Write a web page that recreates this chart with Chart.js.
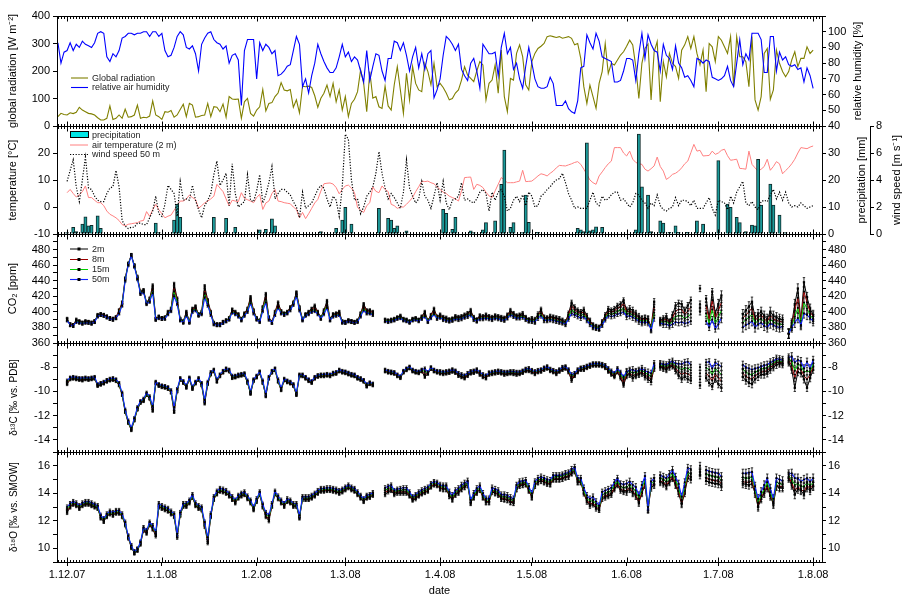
<!DOCTYPE html>
<html>
<head>
  <meta charset="utf-8">
  <title>Tower profile: weather, CO2 and isotopes</title>
  <script src="https://cdn.jsdelivr.net/npm/chart.js"></script>
  <style>
    body { margin: 0; background: #fff; }
    #wrap { position: relative; width: 903px; height: 595px; }
    #wrap canvas { position: absolute; left: 0; top: 0; }
  </style>
</head>
<body>
  <div id="wrap">
    <canvas id="c1" width="903" height="595"></canvas>
    <canvas id="c2" width="903" height="595"></canvas>
    <canvas id="c3" width="903" height="595"></canvas>
    <canvas id="c4" width="903" height="595"></canvas>
    <canvas id="c5" width="903" height="595"></canvas>
  </div>

  <script>
    // x axis: days counted from 1 Dec 2007
    const monthDays = [0, 31, 62, 91, 122, 152, 183, 213, 244];
    const monthLabels = ['1.12.07', '1.1.08', '1.2.08', '1.3.08', '1.4.08', '1.5.08', '1.6.08', '1.7.08', '1.8.08'];

    // tick labels per axis
    const radTicks = [0, 100, 200, 300, 400];
    const humTicks = [40, 50, 60, 70, 80, 90, 100];
    const tempTicks = [-10, 0, 10, 20];
    const precipTicks = [0, 10, 20, 30];
    const windTicks = [0, 2, 4, 6, 8];
    const co2Ticks = [360, 380, 400, 420, 440, 460, 480];
    const d13Ticks = [-14, -12, -10, -8];
    const d18Ticks = [10, 12, 14, 16];

    // daily weather, starting 28 Nov 2007 (day -3)
    const weatherStart = -3;
    const radiation = [
      34,46,42,40,48,45,50,68,58,52, 46,44,40,30,22,22,28,73,24,28,
      40,28,61,32,34,40,76,28,32,30, 36,91,40,34,24,52,50,56,32,40,
      60,79,34,82,76,32,34,38,40,82, 34,70,68,52,80,32,107,98,97,98,
      28,88,100,46,36,58,70,133,55,82, 85,107,120,158,131,128,133,68,95,48,
      145,143,145,140,110,68,101,119,149,107, 155,88,131,58,107,34,82,97,125,204,
      155,52,198,101,107,70,64,145,73,58, 150,216,131,46,192,95,216,155,131,125,
      228,198,150,228,143,155,140,120,95,100, 120,131,167,216,185,173,161,200,234,222,
      95,155,167,222,119,276,107,52,173,167, 264,295,252,150,131,234,264,282,290,300,
      325,328,325,322,325,319,322,325,319,295, 300,246,143,82,149,107,64,155,198,300,
      191,228,222,240,258,270,290,312,295,216, 100,228,282,298,95,270,307,88,234,179,
      264,228,216,173,276,295,325,282,325,264, 222,276,125,300,288,234,325,312,288,264,
      325,143,325,252,252,234,143,325,95,58, 107,264,282,97,131,276,228,198,179,198,
      240,270,216,246,246,288,264,276
    ];
    const humidity = [
      93,80,87,88,93,88,92,90,94,92, 91,90,93,99,100,99,84,81,86,84,
      88,96,97,99,99,98,99,99,100,100, 97,100,100,97,99,88,84,85,90,97,
      100,98,90,89,91,86,75,92,96,99, 100,95,93,92,89,91,80,85,86,82,
      53,88,95,95,95,70,93,88,92,90, 86,88,72,73,75,78,79,88,97,92,
      65,70,61,72,80,92,86,81,77,74, 74,77,84,92,84,87,81,84,82,75,
      68,88,69,78,86,85,75,69,83,83, 94,93,88,93,85,75,84,90,77,86,
      76,86,88,58,63,70,85,97,95,92, 88,92,76,72,69,80,83,75,64,92,
      89,86,86,87,72,90,99,86,90,76, 80,70,64,78,90,80,70,65,64,64,
      65,71,67,53,53,53,56,51,49,48, 56,77,78,98,93,89,99,94,84,83,
      82,81,68,68,69,75,83,83,82,69, 86,99,83,98,92,88,87,75,92,85,
      83,76,91,80,77,71,72,69,65,83, 82,80,82,81,71,70,69,70,72,78,
      69,65,80,95,79,86,82,99,99,99, 95,74,74,97,97,75,87,82,84,79,
      78,79,76,77,68,77,72,64
    ];

    // daily weather from 1 Dec 2007 (day 0)
    const tempStart = 0;
    const airTemp = [
      5.3,6.5,5,3.7,4.5,5.7,7.8,3.5,3.5,2.5, 1.6,1.6,0.5,-1.5,-2.7,-3.3,-4,-5,-6.5,-7,
      -6.4,-6.2,-6,-5.8,-5.2,-5,-1.7,-3.5,-1,1, -1,-2.5,-4,-3.4,-3,-1.2,0.5,2.2,2.2,3,
      4.4,3.5,2.8,-0.5,0.5,1.5,2.2,3,4,8.4, 7,5.7,3,0.4,2.5,2.2,2,5.3,3.2,2.7,
      2.2,1.6,3.5,4.7,-0.9,1.5,2.2,5,6.5,2.2, 2,1.6,1.4,1.2,0,-0.9,-4,-2,-4.3,-2.5,
      -0.5,1.5,2.8,5.9,8.6,8.8,8.9,8.5,7.2,4.9, 6.5,7.8,8.1,7,5.3,-0.2,-1.2,-2,0.5,1.6,
      7.4,5.8,5.3,7.8,6.5,5.7,1,0.5,-0.5,0, 0,1,2.2,3.5,5.7,7.5,9.6,9.4,9.6,9,
      8.6,7.5,6.5,5.5,5,4,3.5,3,2.2,6, 10.9,11,11.1,6.5,8.4,8,7.2,5.5,4.1,3.5,
      6,8.4,10.9,10,9,9,9,9.3,9.6,13.6, 9.4,9.5,9.6,10.5,11.5,12.3,12,11.5,12.5,13.3,
      14.5,15.4,15.3,15.2,15.6,16,16.5,16.8,15.8,14, 12.1,10,9,8.4,11.5,13,14.6,16,17,22,
      22,22,20,18.9,20.7,17.7,16.5,16,15.8,14, 13.3,14.2,15.2,18.5,15,13.3,10.2,11,12.1,12.5,
      13.3,14.5,16,17,20.1,23.2,20.7,21,18.9,19, 19.1,20.7,19.5,20,21,21.4,19,17.3,17.5,17.7,
      14.3,14.2,14,20.7,15.8,14.5,13.3,14,15,17.7, 13.6,15,16.8,16,12.3,13.5,14.6,16,17.7,20,
      22,21.8,21.6,22.2,22.6
    ];
    const windSpeed = [
      3.9,4.7,5.5,3.5,2.4,4,5.7,3.4,3.3,2.8, 2.5,2.4,2.4,3,3.4,3.5,4.7,3.5,1,0.6,
      0.4,0.5,0.5,0.8,0.8,0.7,0.7,1.2,1.7,2.8, 1.5,1.3,2.2,3.6,3.3,3,1.3,3.9,2.5,2.6,
      2.5,3.6,2.5,1.8,1.2,2.1,2.5,3,4.4,5.4, 3.6,4,4.5,2.1,5.2,3,2,2.2,2.4,4.4,
      2.5,2.4,3.2,4.4,2.3,2.9,3.8,5,2.6,3, 3.3,3.3,3.1,2.9,2.4,2,1.2,3.1,1.9,2.1,
      2.3,2.8,3.3,3.6,3.4,2.6,2,2.8,2.5,1.3, 3.5,7.4,7,4,2.5,2.6,1.5,2,2.8,3.1,
      3.5,4.5,6.1,4.5,3.4,2.6,3,2.7,2.3,1.9, 3.1,5.5,3.4,2.8,2.3,2.6,3.9,2.8,2.5,1.9,
      2.8,3.8,2.5,3.9,2.3,1.8,2.5,2.6,2.8,3.8, 2.5,2.6,2.4,2.3,2.6,3.1,3.3,3,1.7,3.1,
      2.5,3.1,3.3,2.8,1.7,1.9,2.5,2.8,2.4,2.9, 2.1,3.1,2.8,2,2.1,2.8,3,3.3,3.5,3.8,
      4,4.1,4.5,3.8,3,2.5,1.9,2,1.9,1.9, 1.9,2.5,3.1,2.3,2.1,2.8,2.5,2.6,2.9,3.1,
      3.1,2.5,2.6,2.3,2,2.3,3,2.9,2.5,2.3, 1.9,2.3,2.1,2.9,2.1,1.8,1.7,1.9,2,2.7,
      2.1,2.5,2.5,2.4,2.1,2.5,1.9,1.9,1.9,2.3, 2.7,1.9,1.4,2.5,2.4,2.3,1.8,2.8,2.3,3.1,
      3.5,3.9,2.3,2.1,2.4,2,1.8,2.4,2.5,2.4, 2.9,3.3,2.6,3.1,2.5,3.1,2.3,2,2.1,2,
      2.3,2.1,1.9,2,2.1
    ];
    const precipDay = [0,2,3,5,6,7,8,10,11,29,30,35,36,37,48,52,55,63,65,67,68,83,88,90,91,93,
      102,105,106,107,108,111,118,123,124,126,127,132,133,136,137,140,142,143,145,146,149,150,151,154,
      167,168,169,170,171,172,173,175,186,187,188,190,191,194,195,197,199,200,203,206,208,213,216,217,
      219,220,222,224,225,226,227,230,231,233,235];
    const precipMm = [0.5,2.5,0.9,3.7,6.4,3,3.2,6.7,2.1,4,0.5,5.2,11,6.2,6.2,5.8,2.5,1.5,1.7,5.6,3,0.9,2.1,5.2,9.9,3.7,
      9.5,5.8,5.2,2.1,3,1.2,0.2,9.1,7.7,1.7,6.2,1.2,0.5,1.5,4.2,4.9,18.4,31.1,2.5,4.2,0.5,14.4,4.3,0.6,
      2.1,1.5,0.9,33.8,1.2,1.5,2.7,2.5,1.5,37,17.5,14.4,0.9,4.9,4,0.6,3,0.6,0.6,4.9,3.7,27.2,11.1,9.9,
      6.2,4.2,0.9,3.3,3,27.7,10.7,18.5,10.7,7,0.5];

    // profile measurements, daily from 1 Dec 2007, null = no data
    const isoStart = 0;
    const co2_2m = [
      391,384,383,390,388,386,388,387,386,388, 396,397,396,394,392,391,393,402,412,443,
      462,473,460,445,426,428,412,417,434,391, 394,392,393,400,404,436,417,391,388,400,
      388,404,407,397,400,433,415,400,386,384, 384,387,389,392,403,400,397,391,398,404,
      419,402,392,389,406,423,393,387,400,412, 401,398,400,406,412,425,406,391,397,400,
      404,408,400,393,402,414,391,397,398,400, 388,387,389,388,387,389,398,410,402,402,
      400,null,null,null,390,389,390,391,393,395, 391,390,388,391,392,390,394,400,389,396,
      404,394,396,393,392,390,391,394,393,394, 396,398,402,393,390,395,394,396,394,393,
      395,394,393,392,396,402,398,395,396,398, 393,390,391,390,397,403,393,392,394,393,
      392,391,389,387,398,412,406,402,400,403, 395,389,383,381,380,387,396,404,402,404,
      408,410,415,402,404,402,398,394,391,392, 391,380,413,null,389,391,394,387,396,408,
      411,410,402,408,415,null,null,430,null,417, 393,426,398,410,421,null,null,null,null,null,
      null,397,402,407,413,393,397,400,395,391, 400,395,393,391,390,null,372,385,410,430,
      389,438,419,404,396
    ];
    const co2_8m = [
      390,384,383,389,387,386,387,387,386,388, 395,397,396,394,392,391,393,401,411,442,
      461,473,459,444,425,427,411,416,431,391, 393,392,392,399,403,431,415,390,387,399,
      387,403,406,396,399,428,413,399,385,384, 384,387,389,391,402,399,396,390,397,403,
      417,401,391,388,405,420,392,387,399,410, 400,397,399,405,411,424,405,390,396,399,
      403,406,399,392,400,411,390,396,397,399, 387,387,389,388,387,388,397,408,401,401,
      399,null,null,null,389,388,389,390,392,394, 390,389,387,390,391,389,393,398,388,395,
      402,393,395,392,391,389,390,393,392,393, 395,397,400,392,389,394,393,395,393,392,
      394,393,392,391,395,400,397,394,395,396, 392,389,390,389,395,401,392,391,393,392,
      391,390,388,386,396,408,403,400,398,400, 393,388,382,380,379,386,394,401,400,401,
      405,406,411,400,401,399,396,392,390,391, 390,379,406,null,388,389,391,386,392,401,
      403,403,397,401,406,null,null,410,null,408, 389,415,392,402,412,null,null,null,null,null,
      null,392,396,400,405,389,393,396,391,388, 395,391,389,388,387,null,372,383,402,418,
      387,426,412,400,394
    ];
    const co2_15m = [
      390,383,382,388,387,385,387,386,385,387, 395,396,395,393,391,390,392,399,409,441,
      461,472,459,443,424,426,411,414,428,390, 393,391,392,398,402,426,412,390,387,397,
      387,401,404,396,398,423,410,397,385,383, 383,386,388,391,400,398,395,390,396,401,
      414,399,391,388,403,416,391,386,397,407, 399,397,399,403,410,422,403,390,396,398,
      401,403,398,392,399,408,390,395,396,397, 387,386,388,387,386,388,395,405,399,399,
      397,null,null,null,389,388,389,390,392,393, 390,389,387,390,391,389,392,396,388,393,
      399,392,394,391,390,389,390,392,391,392, 394,395,398,391,389,392,392,393,392,391,
      393,392,391,390,393,398,395,393,393,395, 391,389,389,388,394,398,390,390,391,390,
      389,388,387,385,393,403,399,397,395,397, 391,386,381,380,379,384,392,398,397,398,
      401,402,405,397,398,396,393,390,388,389, 388,378,399,null,387,387,388,384,388,394,
      395,395,391,394,397,null,null,405,null,398, 385,403,385,393,402,null,null,null,null,null,
      null,386,390,393,397,385,389,391,387,384, 390,387,385,384,384,null,372,382,394,405,
      385,412,404,396,391
    ];
    const co2_50m = [
      389,383,382,387,386,385,386,386,385,387, 394,396,395,393,391,390,392,398,408,440,
      460,472,458,442,423,425,410,413,424,390, 392,391,391,397,401,420,410,389,386,395,
      386,400,402,395,397,418,408,396,384,383, 383,386,388,390,399,397,394,389,395,400,
      411,398,390,387,401,412,390,386,396,405, 398,396,398,402,409,420,402,389,395,397,
      400,401,397,391,397,405,389,394,395,396, 386,386,388,387,386,387,394,402,398,398,
      396,null,null,null,388,387,388,389,391,392, 389,388,386,389,390,388,391,394,387,392,
      397,391,393,390,389,388,389,391,390,391, 393,394,396,390,388,391,391,392,391,390,
      392,391,390,389,392,396,394,392,392,393, 390,388,388,387,392,395,389,389,390,389,
      388,387,386,384,391,398,396,394,392,394, 389,384,380,379,378,383,390,395,394,395,
      397,398,400,394,395,393,391,388,386,387, 386,377,392,null,386,384,384,382,384,387,
      386,387,385,386,388,null,null,400,null,388, 380,390,378,384,392,null,null,null,null,null,
      null,380,383,385,388,380,384,386,382,380, 385,383,381,380,381,null,372,380,386,392,
      383,398,396,392,388
    ];

    const d13_2m = [
      -9.4,-9.0,-8.95,-9.0,-9.05,-9.1,-9.0,-9.05,-9.0,-8.95, -9.55,-9.45,-9.35,-9.2,-9.1,-9.05,-9.15,-9.5,-10.3,-11.7,
      -12.6,-13.2,-12.4,-11.5,-10.95,-10.8,-10.3,-10.6,-11.6,-9.35, -9.55,-9.65,-9.7,-9.8,-10.1,-11.7,-10.0,-9.05,-9.3,-9.7,
      -9.0,-9.8,-9.35,-9.05,-9.5,-11.0,-9.4,-8.6,-8.35,-9.2, -8.75,-8.45,-8.25,-8.35,-8.9,-8.85,-8.75,-8.7,-8.65,-9.3,
      -10.2,-9.15,-8.85,-8.5,-9.3,-10.4,-8.95,-8.45,-8.25,-9.2, -9.9,-9.1,-9.25,-9.35,-9.55,-10.3,-8.75,-8.75,-8.95,-9.15,
      -9.3,-8.95,-8.8,-8.75,-8.75,-8.7,-8.75,-8.6,-8.55,-8.35, -8.45,-8.5,-8.6,-8.7,-8.75,-8.95,-9.05,-9.2,-9.6,-9.4,
      -9.5,null,null,null,-8.35,-8.45,-8.5,-8.55,-8.75,-8.9, -8.45,-8.25,-8.1,-8.35,-8.45,-8.5,-8.35,-8.8,-8.55,-8.15,
      -8.35,-8.45,-8.5,-8.55,-8.5,-8.45,-8.35,-8.45,-8.7,-8.8, -8.9,-8.7,-8.5,-8.45,-8.35,-8.6,-8.8,-8.9,-8.6,-8.55,
      -8.5,-8.45,-8.5,-8.6,-8.55,-8.5,-8.55,-8.6,-8.55,-8.45, -8.3,-8.3,-8.4,-8.55,-8.4,-8.35,-8.2,-8.1,-8.3,-8.4,
      -8.55,-8.35,-8.2,-8.1,-8.4,-9.1,-8.7,-8.4,-8.2,-8.2, -8.05,-7.95,-7.85,-7.85,-7.85,-7.9,-8.05,-8.35,-8.6,-8.8,
      -8.4,-8.9,-9.5,-8.7,-8.6,-8.9,-8.7,-8.6,-8.5,-8.8, -9.0,-9.2,-8.1,null,-8.0,-8.1,-8.2,-8.0,-7.9,-8.3,
      -8.7,-9.0,-8.8,-9.0,-9.1,null,null,-9.5,null,-8.9, -9.3,-9.6,-9.0,-9.4,-9.7,null,null,null,null,null,
      null,-8.8,-9.1,-9.3,-9.4,-9.0,-8.8,-8.6,-8.6,-8.5, -8.2,-8.0,-7.8,-7.7,-7.75,null,-7.6,-8.2,-9.7,-8.4,
      -8.5,-9.0,-9.7,-8.9,-8.2
    ];
    const d13_8m = [
      -9.3,-8.95,-8.9,-8.95,-9.0,-9.05,-8.95,-9.0,-8.95,-8.9, -9.5,-9.4,-9.3,-9.15,-9.05,-9.0,-9.1,-9.45,-10.25,-11.65,
      -12.55,-13.15,-12.35,-11.45,-10.9,-10.75,-10.25,-10.55,-11.5,-9.3, -9.5,-9.6,-9.65,-9.75,-10.05,-11.6,-9.95,-9.0,-9.25,-9.65,
      -8.95,-9.75,-9.3,-9.0,-9.45,-10.9,-9.35,-8.55,-8.3,-9.15, -8.7,-8.4,-8.2,-8.3,-8.85,-8.8,-8.7,-8.65,-8.6,-9.25,
      -10.15,-9.1,-8.8,-8.45,-9.25,-10.35,-8.9,-8.4,-8.2,-9.15, -9.85,-9.05,-9.2,-9.3,-9.5,-10.25,-8.7,-8.7,-8.9,-9.1,
      -9.25,-8.9,-8.75,-8.7,-8.7,-8.65,-8.7,-8.55,-8.5,-8.3, -8.4,-8.45,-8.55,-8.65,-8.7,-8.9,-9.0,-9.15,-9.55,-9.35,
      -9.45,null,null,null,-8.3,-8.4,-8.45,-8.5,-8.7,-8.85, -8.4,-8.2,-8.05,-8.3,-8.4,-8.45,-8.3,-8.6,-8.5,-8.1,
      -8.3,-8.4,-8.45,-8.5,-8.45,-8.4,-8.3,-8.4,-8.65,-8.75, -8.85,-8.65,-8.45,-8.4,-8.3,-8.55,-8.75,-8.85,-8.55,-8.5,
      -8.45,-8.4,-8.45,-8.55,-8.5,-8.45,-8.5,-8.55,-8.5,-8.4, -8.25,-8.25,-8.35,-8.5,-8.35,-8.3,-8.15,-8.05,-8.25,-8.35,
      -8.5,-8.3,-8.15,-8.05,-8.35,-8.95,-8.65,-8.35,-8.15,-8.15, -8.0,-7.9,-7.8,-7.8,-7.8,-7.85,-8.0,-8.3,-8.5,-8.7,
      -8.3,-8.75,-9.3,-8.6,-8.5,-8.7,-8.6,-8.5,-8.4,-8.65, -8.8,-9.0,-8.0,null,-7.9,-8.0,-8.1,-7.9,-7.8,-8.1,
      -8.4,-8.6,-8.45,-8.55,-8.7,null,null,-9.0,null,-8.5, -8.75,-9.1,-8.55,-8.85,-9.15,null,null,null,null,null,
      null,-8.5,-8.75,-8.9,-9.0,-8.7,-8.55,-8.4,-8.35,-8.3, -8.0,-7.85,-7.6,-7.6,-7.6,null,-7.45,-7.85,-8.9,-8.1,
      -8.2,-8.7,-9.0,-8.6,-7.95
    ];
    const d13_15m = [
      -9.2,-8.9,-8.85,-8.9,-8.95,-8.95,-8.9,-8.95,-8.9,-8.85, -9.45,-9.35,-9.25,-9.1,-9.0,-8.95,-9.05,-9.4,-10.2,-11.6,
      -12.5,-13.1,-12.3,-11.4,-10.85,-10.7,-10.2,-10.5,-11.35,-9.25, -9.45,-9.55,-9.6,-9.7,-10.0,-11.45,-9.9,-8.95,-9.2,-9.6,
      -8.9,-9.7,-9.25,-8.95,-9.4,-10.8,-9.3,-8.5,-8.25,-9.1, -8.65,-8.35,-8.15,-8.25,-8.8,-8.75,-8.65,-8.6,-8.55,-9.2,
      -10.1,-9.05,-8.75,-8.4,-9.2,-10.3,-8.85,-8.35,-8.15,-9.1, -9.8,-9.0,-9.15,-9.25,-9.45,-10.2,-8.65,-8.65,-8.85,-9.05,
      -9.2,-8.85,-8.7,-8.65,-8.65,-8.6,-8.65,-8.5,-8.45,-8.25, -8.35,-8.4,-8.5,-8.6,-8.65,-8.85,-8.95,-9.1,-9.5,-9.3,
      -9.4,null,null,null,-8.25,-8.35,-8.4,-8.45,-8.65,-8.8, -8.35,-8.15,-8.0,-8.25,-8.35,-8.4,-8.25,-8.35,-8.45,-8.05,
      -8.25,-8.35,-8.4,-8.45,-8.4,-8.35,-8.25,-8.35,-8.55,-8.65, -8.75,-8.55,-8.4,-8.35,-8.25,-8.45,-8.65,-8.75,-8.5,-8.45,
      -8.4,-8.35,-8.4,-8.45,-8.45,-8.4,-8.4,-8.45,-8.45,-8.35, -8.2,-8.15,-8.3,-8.4,-8.3,-8.25,-8.1,-8.0,-8.2,-8.3,
      -8.4,-8.25,-8.05,-8.0,-8.25,-8.75,-8.55,-8.25,-8.1,-8.05, -7.95,-7.85,-7.75,-7.75,-7.75,-7.8,-7.9,-8.2,-8.4,-8.6,
      -8.2,-8.55,-9.0,-8.45,-8.35,-8.45,-8.45,-8.35,-8.25,-8.45, -8.6,-8.75,-7.85,null,-7.8,-7.9,-7.95,-7.75,-7.65,-7.9,
      -8.05,-8.2,-8.05,-8.1,-8.25,null,null,-8.5,null,-8.05, -8.2,-8.6,-8.1,-8.35,-8.6,null,null,null,null,null,
      null,-8.15,-8.4,-8.55,-8.65,-8.4,-8.3,-8.15,-8.1,-8.05, -7.8,-7.7,-7.45,-7.5,-7.55,null,-7.35,-7.5,-8.3,-7.75,
      -7.85,-8.4,-8.3,-8.4,-7.7
    ];
    const d13_50m = [
      -9.1,-8.85,-8.8,-8.85,-8.9,-8.9,-8.85,-8.9,-8.85,-8.8, -9.4,-9.3,-9.2,-9.05,-8.95,-8.9,-9.0,-9.3,-10.1,-11.5,
      -12.4,-13.0,-12.2,-11.3,-10.8,-10.6,-10.1,-10.4,-11.2,-9.2, -9.4,-9.5,-9.55,-9.65,-9.9,-11.3,-9.8,-8.9,-9.15,-9.5,
      -8.85,-9.6,-9.2,-8.9,-9.3,-10.7,-9.2,-8.4,-8.2,-9.0, -8.6,-8.3,-8.1,-8.2,-8.7,-8.7,-8.6,-8.55,-8.5,-9.1,
      -10.0,-9.0,-8.7,-8.35,-9.1,-10.2,-8.8,-8.3,-8.1,-9.0, -9.7,-8.95,-9.1,-9.2,-9.4,-10.1,-8.6,-8.6,-8.8,-9.0,
      -9.15,-8.8,-8.65,-8.6,-8.6,-8.55,-8.6,-8.45,-8.4,-8.2, -8.3,-8.35,-8.45,-8.55,-8.6,-8.8,-8.9,-9.05,-9.4,-9.25,
      -9.35,null,null,null,-8.2,-8.3,-8.35,-8.4,-8.6,-8.75, -8.3,-8.1,-7.95,-8.2,-8.3,-8.35,-8.2,-8.1,-8.4,-8.0,
      -8.2,-8.3,-8.35,-8.4,-8.35,-8.3,-8.2,-8.3,-8.5,-8.6, -8.7,-8.5,-8.35,-8.3,-8.2,-8.4,-8.6,-8.7,-8.45,-8.4,
      -8.35,-8.3,-8.35,-8.4,-8.4,-8.35,-8.35,-8.4,-8.4,-8.3, -8.15,-8.1,-8.25,-8.35,-8.25,-8.2,-8.05,-7.95,-8.15,-8.25,
      -8.35,-8.2,-8.0,-7.95,-8.2,-8.6,-8.5,-8.2,-8.05,-8.0, -7.9,-7.8,-7.7,-7.7,-7.7,-7.75,-7.85,-8.1,-8.3,-8.5,
      -8.1,-8.4,-8.8,-8.35,-8.25,-8.2,-8.35,-8.25,-8.1,-8.3, -8.4,-8.5,-7.7,null,-7.7,-7.75,-7.8,-7.6,-7.5,-7.7,
      -7.7,-7.75,-7.6,-7.55,-7.8,null,null,-8.0,null,-7.6, -7.55,-8.1,-7.6,-7.8,-7.95,null,null,null,null,null,
      null,-7.8,-8.0,-8.1,-8.2,-8.1,-8.05,-7.95,-7.85,-7.8, -7.6,-7.5,-7.3,-7.35,-7.4,null,-7.2,-7.1,-7.6,-7.4,
      -7.5,-8.1,-7.55,-8.1,-7.4
    ];

    const d18_2m = [
      12.6,13.0,13.2,13.1,12.9,13.1,13.2,13.2,13.1,13.0, 12.9,12.2,11.95,12.3,12.5,12.4,12.55,12.55,12.3,11.7,
      10.75,10.05,9.65,9.85,10.3,11.3,11.1,11.7,11.4,10.9, 13.0,12.9,12.8,12.7,12.5,12.3,10.8,12.4,13.05,13.05,
      13.3,13.7,13.1,12.9,12.8,11.6,10.4,12.3,13.55,13.95, 14.15,14.1,14.0,13.8,13.55,13.3,13.65,13.8,13.9,13.6,
      13.3,12.8,13.4,13.9,13.0,12.3,12.0,13.05,13.95,13.6, 13.3,13.05,13.4,13.3,13.05,13.05,12.2,13.55,13.55,13.55,
      13.65,13.8,14.0,14.15,14.15,14.2,14.2,14.15,14.1,14.0, 14.1,14.25,14.4,14.25,14.15,13.9,13.65,13.4,13.65,13.7,
      13.85,null,null,null,13.9,14.1,14.2,13.9,14.0,14.0, 14.0,14.0,13.8,13.5,13.6,13.8,13.95,14.05,14.15,14.45,
      14.6,14.55,14.35,14.3,14.3,13.8,13.55,13.9,14.05,14.3, 14.45,14.6,13.3,13.7,14.05,14.25,13.7,13.35,13.35,14.1,
      14.0,13.9,13.6,13.55,13.5,13.35,13.3,14.3,14.55,14.6, 14.65,14.2,13.7,14.55,14.8,14.9,14.8,14.7,14.65,15.0,
      15.0,15.0,15.05,15.15,15.2,15.45,15.6,14.8,14.8,14.0, 13.4,13.1,13.2,12.9,12.8,13.6,13.7,13.8,13.9,14.3,
      14.6,14.2,14.1,14.1,14.3,14.0,13.8,13.3,14.0,14.6, 12.8,14.4,14.6,null,14.8,14.7,14.5,14.8,15.1,14.6,
      14.0,13.2,14.0,15.1,15.0,null,null,15.3,null,14.9, 14.8,14.75,14.7,14.7,14.5,null,null,null,null,null,
      null,14.7,14.65,14.6,14.7,14.0,13.0,13.6,14.0,14.4, 13.8,13.2,14.5,14.4,14.4,null,15.1,14.6,13.9,14.3,
      14.2,13.9,14.4,14.2,14.5
    ];
    const d18_8m = [
      12.7,13.05,13.25,13.15,12.95,13.15,13.25,13.25,13.15,13.05, 12.95,12.25,12.0,12.35,12.55,12.45,12.6,12.6,12.35,11.75,
      10.8,10.1,9.7,9.9,10.35,11.35,11.15,11.75,11.45,11.0, 13.05,12.95,12.85,12.75,12.55,12.35,10.9,12.45,13.1,13.1,
      13.35,13.75,13.15,12.95,12.85,11.7,10.5,12.35,13.6,14.0, 14.2,14.15,14.05,13.85,13.6,13.35,13.7,13.85,13.95,13.65,
      13.35,12.85,13.45,13.95,13.05,12.4,12.1,13.1,14.0,13.65, 13.35,13.1,13.45,13.35,13.1,13.1,12.25,13.6,13.6,13.6,
      13.7,13.85,14.05,14.2,14.2,14.25,14.25,14.2,14.15,14.05, 14.15,14.3,14.45,14.3,14.2,13.95,13.7,13.45,13.7,13.75,
      13.9,null,null,null,14.05,14.2,14.3,14.0,14.1,14.1, 14.1,14.1,13.85,13.55,13.7,13.85,14.0,14.1,14.2,14.5,
      14.65,14.6,14.4,14.35,14.35,13.85,13.6,13.95,14.1,14.35, 14.5,14.65,13.35,13.75,14.1,14.3,13.75,13.4,13.4,14.2,
      14.05,13.95,13.65,13.6,13.55,13.4,13.35,14.35,14.6,14.65, 14.7,14.25,13.75,14.6,14.85,14.95,14.85,14.75,14.7,15.05,
      15.05,15.05,15.1,15.2,15.25,15.5,15.65,14.85,14.85,14.1, 13.5,13.2,13.3,13.0,12.85,13.7,13.8,13.9,14.0,14.4,
      14.7,14.3,14.2,14.2,14.4,14.1,13.9,13.4,14.1,14.7, 12.85,14.5,14.7,null,14.9,14.8,14.6,14.9,15.2,14.7,
      14.15,13.3,14.15,15.3,15.2,null,null,15.5,null,15.1, 15.0,14.95,14.9,14.9,14.7,null,null,null,null,null,
      null,14.85,14.8,14.8,14.9,14.1,13.1,13.7,14.1,14.55, 13.9,13.3,14.6,14.5,14.5,null,15.2,14.75,14.2,14.45,
      14.3,14.1,14.55,14.35,14.6
    ];
    const d18_15m = [
      12.85,13.15,13.3,13.2,13.0,13.2,13.3,13.3,13.2,13.1, 13.0,12.3,12.05,12.4,12.6,12.5,12.65,12.65,12.4,11.8,
      10.85,10.15,9.7,9.9,10.4,11.45,11.25,11.8,11.55,11.1, 13.15,13.0,12.9,12.8,12.6,12.4,10.95,12.5,13.15,13.15,
      13.4,13.8,13.2,13.0,12.9,11.8,10.65,12.4,13.65,14.05, 14.25,14.2,14.1,13.9,13.65,13.4,13.75,13.9,14.0,13.7,
      13.4,12.9,13.5,14.0,13.1,12.5,12.25,13.15,14.05,13.7, 13.4,13.15,13.5,13.4,13.15,13.15,12.3,13.65,13.65,13.65,
      13.75,13.9,14.1,14.25,14.25,14.3,14.3,14.25,14.2,14.1, 14.2,14.35,14.5,14.35,14.25,14.0,13.75,13.5,13.75,13.8,
      13.95,null,null,null,14.2,14.35,14.45,14.1,14.2,14.2, 14.25,14.25,13.95,13.65,13.8,13.95,14.1,14.2,14.3,14.6,
      14.75,14.7,14.5,14.45,14.45,13.95,13.7,14.05,14.2,14.45, 14.6,14.75,13.4,13.85,14.2,14.4,13.85,13.5,13.5,14.25,
      14.15,14.05,13.75,13.75,13.7,13.55,13.45,14.45,14.7,14.75, 14.8,14.35,13.85,14.7,14.95,15.05,14.95,14.85,14.8,15.15,
      15.2,15.2,15.25,15.35,15.4,15.6,15.75,14.95,14.95,14.2, 13.65,13.4,13.5,13.2,12.95,13.9,14.0,14.1,14.2,14.6,
      14.9,14.5,14.4,14.45,14.6,14.35,14.2,13.6,14.35,15.0, 12.9,14.65,14.9,null,15.1,15.0,14.85,15.15,15.45,14.95,
      14.4,13.5,14.45,15.5,15.4,null,null,15.6,null,15.4, 15.3,15.25,15.2,15.15,14.95,null,null,null,null,null,
      null,15.15,15.1,15.1,15.2,14.3,13.3,13.85,14.3,14.8, 14.1,13.4,14.8,14.7,14.65,null,15.25,15.0,14.6,14.7,
      14.5,14.5,14.75,14.55,14.8
    ];
    const d18_50m = [
      13.0,13.25,13.4,13.3,13.1,13.3,13.4,13.4,13.3,13.2, 13.1,12.4,12.15,12.5,12.7,12.6,12.75,12.75,12.5,11.9,
      10.9,10.2,9.75,9.95,10.45,11.5,11.3,11.9,11.65,11.2, 13.25,13.1,13.0,12.9,12.7,12.5,11.05,12.6,13.25,13.25,
      13.5,13.9,13.3,13.1,13.0,11.9,10.8,12.5,13.75,14.15, 14.35,14.3,14.2,14.0,13.75,13.5,13.85,14.0,14.1,13.8,
      13.5,13.0,13.6,14.1,13.2,12.6,12.4,13.25,14.15,13.8, 13.5,13.25,13.6,13.5,13.25,13.25,12.4,13.75,13.75,13.75,
      13.85,14.0,14.2,14.35,14.35,14.4,14.4,14.35,14.3,14.2, 14.3,14.45,14.6,14.45,14.35,14.1,13.85,13.6,13.85,13.9,
      14.05,null,null,null,14.4,14.5,14.6,14.2,14.3,14.35, 14.4,14.4,14.1,13.75,13.9,14.1,14.25,14.35,14.45,14.7,
      14.85,14.8,14.6,14.55,14.55,14.1,13.85,14.2,14.35,14.6, 14.75,14.9,13.5,14.0,14.35,14.55,14.0,13.6,13.6,14.4,
      14.3,14.2,13.9,13.9,13.85,13.7,13.6,14.6,14.85,14.9, 14.95,14.5,14.0,14.85,15.1,15.2,15.1,15.0,14.95,15.3,
      15.3,15.3,15.35,15.45,15.5,15.75,15.9,15.1,15.1,14.4, 13.85,13.6,13.75,13.4,13.1,14.1,14.2,14.3,14.4,14.8,
      15.1,14.7,14.65,14.7,14.85,14.6,14.45,13.85,14.6,15.25, 13.0,14.85,15.1,null,15.3,15.2,15.1,15.4,15.7,15.2,
      14.7,13.75,14.8,15.85,15.75,null,null,16.0,null,15.7, 15.6,15.55,15.5,15.45,15.2,null,null,null,null,null,
      null,15.45,15.45,15.5,15.55,14.5,13.6,14.1,14.6,15.1, 14.35,13.6,15.1,15.0,14.9,null,15.4,15.45,15.1,15.1,
      14.85,15.0,15.1,14.85,15.1
    ];

    // measurement uncertainty per month (Dec .. Jul)
    const co2Err = [2, 2, 2, 2, 2.5, 3, 4, 6];
    const d13Err = [0.12, 0.12, 0.12, 0.12, 0.15, 0.15, 0.25, 0.3];
    const d18Err = [0.15, 0.15, 0.15, 0.15, 0.2, 0.2, 0.25, 0.3];

    const FONT = '"Liberation Sans", Arial, Helvetica, sans-serif';
    Chart.defaults.font.family = FONT;
    Chart.defaults.font.size = 11;
    Chart.defaults.color = '#000';

    function series(start, values) {
      return values.map((v, i) => ({ x: start + i, y: v }));
    }

    function monthOf(d) {
      let m = 0;
      for (let i = 0; i < 8; i++) if (d >= monthDays[i]) m = i;
      return m;
    }

    // box around each panel, with daily ticks on top and bottom
    const framePlugin = {
      id: 'frame',
      afterDraw(chart) {
        const { ctx, chartArea: a } = chart;
        const x = chart.scales.x;
        ctx.save();
        ctx.strokeStyle = '#000';
        ctx.lineWidth = 1;
        const l = Math.round(a.left) + 0.5, r = Math.round(a.right) + 0.5;
        const t = Math.round(a.top) + 0.5, b = Math.round(a.bottom) + 0.5;
        ctx.strokeRect(l, t, r - l, b - t);
        ctx.beginPath();
        for (let d = Math.ceil(x.min); d <= x.max; d++) {
          const px = Math.round(x.getPixelForValue(d)) + 0.5;
          const len = monthDays.includes(d) ? 5 : 2.5;
          ctx.moveTo(px, t); ctx.lineTo(px, t + len);
          ctx.moveTo(px, b); ctx.lineTo(px, b - len);
        }
        ctx.stroke();
        ctx.restore();
      }
    };

    // vertical error bars, drawn just under their own series
    const errorBarPlugin = {
      id: 'errorBars',
      beforeDatasetDraw(chart, args) {
        const ds = chart.data.datasets[args.index];
        if (!ds.errBars) return;
        const { ctx, chartArea: a } = chart;
        const xs = chart.scales.x;
        const ys = chart.scales[args.meta.yAxisID];
        ctx.save();
        ctx.beginPath();
        ctx.rect(a.left, a.top, a.width, a.height);
        ctx.clip();
        ctx.strokeStyle = '#000';
        ctx.lineWidth = 0.8;
        ctx.beginPath();
        ds.data.forEach(p => {
          if (p.y === null) return;
          const e = ds.errBars[monthOf(p.x)];
          const px = xs.getPixelForValue(p.x);
          const y1 = ys.getPixelForValue(p.y - e);
          const y2 = ys.getPixelForValue(p.y + e);
          ctx.moveTo(px, y1); ctx.lineTo(px, y2);
          ctx.moveTo(px - 1.2, y1); ctx.lineTo(px + 1.2, y1);
          ctx.moveTo(px - 1.2, y2); ctx.lineTo(px + 1.2, y2);
        });
        ctx.stroke();
        ctx.restore();
      }
    };

    // small legend inside the plot area
    const insetLegend = {
      id: 'insetLegend',
      afterDraw(chart, args, opts) {
        if (!opts || !opts.rows) return;
        const ctx = chart.ctx;
        ctx.save();
        ctx.font = '9px ' + FONT;
        ctx.textBaseline = 'middle';
        opts.rows.forEach(row => {
          const ds = chart.data.datasets[row.index];
          const x0 = opts.x, x1 = opts.x + opts.w, y = row.y;
          if (ds.type === 'bar') {
            ctx.fillStyle = '#00e5e5';
            ctx.fillRect(x0, y - 3, x1 - x0, 6);
            ctx.strokeStyle = '#000';
            ctx.lineWidth = 1;
            ctx.strokeRect(x0 + 0.5, y - 3.5, x1 - x0, 6);
          } else {
            ctx.strokeStyle = ds.borderColor;
            ctx.lineWidth = ds.borderWidth || 1;
            ctx.setLineDash(ds.borderDash || []);
            ctx.beginPath();
            ctx.moveTo(x0, y); ctx.lineTo(x1, y);
            ctx.stroke();
            ctx.setLineDash([]);
            if (row.marker) {
              ctx.fillStyle = '#000';
              ctx.fillRect((x0 + x1) / 2 - 1.5, y - 1.5, 3, 3);
            }
          }
          ctx.fillStyle = '#222';
          ctx.fillText(ds.label, opts.textX, y + 0.5);
        });
        ctx.restore();
      }
    };

    // right-hand axis titles, reading bottom to top like the left ones
    const sideTitles = {
      id: 'sideTitles',
      afterDraw(chart, args, opts) {
        if (!opts || !opts.items) return;
        const ctx = chart.ctx;
        opts.items.forEach(t => {
          const s = chart.scales[t.scale];
          ctx.save();
          ctx.translate(t.x, (s.top + s.bottom) / 2);
          ctx.rotate(-Math.PI / 2);
          ctx.font = '11px ' + FONT;
          ctx.fillStyle = '#000';
          ctx.textAlign = 'center';
          ctx.textBaseline = 'middle';
          ctx.fillText(t.text, 0, 0);
          ctx.restore();
        });
      }
    };

    function xAxis(show) {
      return {
        type: 'linear', min: -3.3, max: 246.9, display: show, offset: false,
        afterBuildTicks: s => { s.ticks = monthDays.map(v => ({ value: v })); },
        afterFit: s => { if (show) s.height = 33; },
        ticks: { autoSkip: false, maxRotation: 0, padding: 2,
          callback: v => monthLabels[monthDays.indexOf(v)] },
        grid: { drawOnChartArea: false, tickLength: 4, color: '#000', offset: false },
        border: { display: false },
        title: { display: show, text: 'date', padding: { top: 0, bottom: -3 } }
      };
    }

    function yAxis(o) {
      const right = o.pos === 'right';
      return {
        type: 'linear', position: o.pos || 'left', min: o.min, max: o.max,
        afterFit: s => { s.width = o.width; },
        ticks: {
          stepSize: o.step, autoSkip: false, padding: right ? 2 : 3,
          callback: v => (o.labels.includes(Math.round(v * 100) / 100) ? String(v) : '')
        },
        grid: { drawOnChartArea: false, tickLength: 4, color: '#000' },
        border: { display: !!o.border, color: '#000' },
        title: o.title
          ? { display: true, text: o.title, font: { size: o.titleSize || 11 }, padding: { top: o.titlePad || 6.4 } }
          : { display: false }
      };
    }

    function makeChart(id, top, bottom, datasets, scales, pluginOpts) {
      return new Chart(document.getElementById(id), {
        type: 'line',
        data: { datasets },
        options: {
          responsive: false,
          animation: false,
          events: [],
          spanGaps: false,
          layout: { padding: { left: 0, right: 0, top: top, bottom: bottom } },
          scales,
          elements: { point: { radius: 0 }, line: { tension: 0 } },
          plugins: Object.assign({ legend: { display: false }, tooltip: { enabled: false } }, pluginOpts)
        },
        plugins: [errorBarPlugin, framePlugin, insetLegend, sideTitles]
      });
    }

    // panel 1: radiation and humidity
    makeChart('c1', 16, 469, [
      { label: 'Global radiation', data: series(weatherStart, radiation), yAxisID: 'y',
        borderColor: '#808000', borderWidth: 1.1, order: 2 },
      { label: 'relative air humidity', data: series(weatherStart, humidity), yAxisID: 'yH',
        borderColor: '#0000ff', borderWidth: 1.1, order: 1 }
    ], {
      x: xAxis(false),
      y: yAxis({ min: 0, max: 400, step: 100, labels: radTicks, width: 57, title: 'global radiation [W m⁻²]' }),
      yH: yAxis({ pos: 'right', min: 40, max: 110, step: 10, labels: humTicks, width: 81 })
    }, {
      insetLegend: { x: 71, w: 17, textX: 92, rows: [{ index: 0, y: 78 }, { index: 1, y: 87.5 }] },
      sideTitles: { items: [{ scale: 'yH', text: 'relative humidity [%]', x: 858 }] }
    });

    // panel 2: precipitation, air temperature, wind
    makeChart('c2', 126, 361, [
      { type: 'bar', label: 'precipitation', data: precipDay.map((d, i) => ({ x: d, y: precipMm[i] })),
        yAxisID: 'yP', backgroundColor: '#1a9a9a', borderColor: '#102828',
        borderWidth: { left: 1, right: 1, top: 1, bottom: 0 }, barThickness: 3.2, grouped: false, order: 2 },
      { label: 'air temperature (2 m)', data: series(tempStart, airTemp), yAxisID: 'y',
        borderColor: '#ff8080', borderWidth: 1, order: 3 },
      { label: 'wind speed 50 m', data: series(tempStart, windSpeed), yAxisID: 'yW',
        borderColor: '#000', borderWidth: 1.2, borderDash: [1.2, 1.6], order: 1 }
    ], {
      x: xAxis(false),
      y: yAxis({ min: -10, max: 30, step: 10, labels: tempTicks, width: 57, title: 'temperature [°C]' }),
      yP: yAxis({ pos: 'right', min: 0, max: 40, step: 10, labels: precipTicks, width: 48 }),
      yW: yAxis({ pos: 'right', min: 0, max: 8, step: 2, labels: windTicks, width: 33, border: true })
    }, {
      insetLegend: { x: 70, w: 18, textX: 92,
        rows: [{ index: 0, y: 135 }, { index: 1, y: 145 }, { index: 2, y: 154.5 }] },
      sideTitles: { items: [
        { scale: 'yP', text: 'precipitation [mm]', x: 862 },
        { scale: 'yW', text: 'wind speed [m s⁻¹]', x: 897 }
      ] }
    });

    function profileSets(v2, v8, v15, v50, err) {
      return [
        { label: '2m', data: series(isoStart, v2), borderColor: '#000', borderWidth: 1,
          pointStyle: 'rect', pointRadius: 1.6, pointBackgroundColor: '#000', pointBorderWidth: 0,
          errBars: err, order: 4 },
        { label: '8m', data: series(isoStart, v8), borderColor: '#990000', borderWidth: 1,
          pointRadius: 1.1, pointBackgroundColor: '#000', pointBorderWidth: 0, errBars: err, order: 3 },
        { label: '15m', data: series(isoStart, v15), borderColor: '#00cc00', borderWidth: 1,
          pointRadius: 1.1, pointBackgroundColor: '#000', pointBorderWidth: 0, errBars: err, order: 2 },
        { label: '50m', data: series(isoStart, v50), borderColor: '#1020ff', borderWidth: 1.1,
          pointRadius: 1.1, pointBackgroundColor: '#000', pointBorderWidth: 0, errBars: err, order: 1 }
      ];
    }

    // panel 3: CO2
    makeChart('c3', 234, 252, profileSets(co2_2m, co2_8m, co2_15m, co2_50m, co2Err), {
      x: xAxis(false),
      y: yAxis({ min: 360, max: 500, step: 10, labels: co2Ticks, width: 57, title: 'CO₂ [ppm]' }),
      yR: yAxis({ pos: 'right', min: 360, max: 500, step: 10, labels: co2Ticks, width: 81 })
    }, {
      insetLegend: { x: 70, w: 18, textX: 92, rows: [
        { index: 0, y: 249, marker: true }, { index: 1, y: 259.5, marker: true },
        { index: 2, y: 269.5, marker: true }, { index: 3, y: 279.5, marker: true }
      ] }
    });

    // panel 4: delta 13C
    makeChart('c4', 343, 143, profileSets(d13_2m, d13_8m, d13_15m, d13_50m, d13Err), {
      x: xAxis(false),
      y: yAxis({ min: -15, max: -6, step: 1, labels: d13Ticks, width: 57, title: 'δ¹³C [‰ vs. PDB]', titleSize: 10, titlePad: 8 }),
      yR: yAxis({ pos: 'right', min: -15, max: -6, step: 1, labels: d13Ticks, width: 81 })
    }, {});

    // panel 5: delta 18O, with the date axis
    makeChart('c5', 452, 0, profileSets(d18_2m, d18_8m, d18_15m, d18_50m, d18Err), {
      x: xAxis(true),
      y: yAxis({ min: 9, max: 17, step: 1, labels: d18Ticks, width: 57, title: 'δ¹⁸O [‰ vs. SMOW]', titleSize: 10, titlePad: 8 }),
      yR: yAxis({ pos: 'right', min: 9, max: 17, step: 1, labels: d18Ticks, width: 81 })
    }, {});
  </script>
</body>
</html>
